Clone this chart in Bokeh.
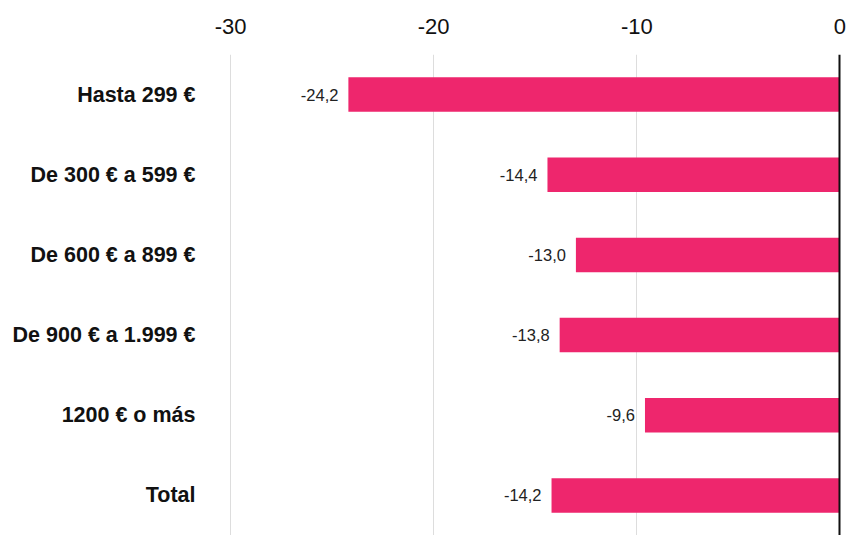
from bokeh.plotting import figure
from bokeh.models import ColumnDataSource, Range1d, FactorRange, LinearAxis, FixedTicker, Span
from bokeh.core.properties import value
from bokeh.embed import file_html
from bokeh.resources import INLINE

categories = ["Hasta 299 €", "De 300 € a 599 €", "De 600 € a 899 €",
              "De 900 € a 1.999 €", "1200 € o más", "Total"]
values = [-24.2, -14.4, -13.0, -13.8, -9.6, -14.2]
labels = ["-24,2", "-14,4", "-13,0", "-13,8", "-9,6", "-14,2"]
ticks = [-30, -20, -10, 0]
tick_labels = {-30: "-30", -20: "-20", -10: "-10", 0: "0"}

src = ColumnDataSource(dict(cat=categories, val=values, lab=labels))

p = figure(width=847, height=535, output_backend="svg", toolbar_location=None,
           x_range=Range1d(-31.48, 0.025),
           y_range=FactorRange(factors=list(reversed(categories)), range_padding=0),
           x_axis_location=None, min_border_left=200, min_border_right=7,
           min_border_top=54, min_border_bottom=0)
p.outline_line_color = None
p.background_fill_color = "white"
p.border_fill_color = "white"

p.hbar(y="cat", left=0, right="val", height=0.43, source=src,
       fill_color="#EE266D", line_color=None)

p.text(x="val", y="cat", text="lab", source=src, x_offset=-10,
       text_align="right", text_baseline="middle", text_font_size="16.5px",
       text_font=value("Liberation Sans"), text_color="#222222")

xa = LinearAxis(ticker=FixedTicker(ticks=ticks))
xa.major_label_overrides = tick_labels
xa.axis_line_color = None
xa.major_tick_line_color = None
xa.minor_tick_line_color = None
xa.major_tick_out = 0
xa.major_label_standoff = 21
xa.major_label_text_font = "Liberation Sans"
xa.major_label_text_font_size = "22px"
xa.major_label_text_color = "#111111"
p.add_layout(xa, "above")

p.xgrid.ticker = FixedTicker(ticks=ticks[:-1])
p.xgrid.grid_line_color = "#dddddd"
p.xgrid.grid_line_width = 1
p.ygrid.grid_line_color = None

ya = p.yaxis[0]
ya.axis_line_color = None
ya.major_tick_line_color = None
ya.minor_tick_line_color = None
ya.major_tick_out = 0
ya.major_label_standoff = 5
ya.major_label_text_font = "Liberation Sans"
ya.major_label_text_font_style = "bold"
ya.major_label_text_font_size = "21.5px"
ya.major_label_text_color = "#111111"

p.add_layout(Span(location=0, dimension="height", line_color="#111111", line_width=3))

open("out.html", "w").write(file_html(p, INLINE))
